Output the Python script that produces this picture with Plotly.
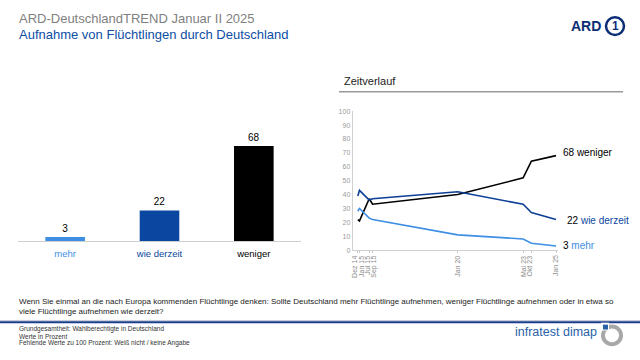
import plotly.graph_objects as go
import pandas as pd

# ---- data ----
bar_categories = ["mehr", "wie derzeit", "weniger"]
bar_values = [3, 22, 68]

trend_dates = ["2014-12-01", "2015-01-01", "2015-07-01", "2015-09-01",
               "2020-01-01", "2023-05-01", "2023-10-01", "2025-01-01"]
trend_labels = ["Dez 14", "Jan 15", "Jul 15", "Sep 15", "Jan 20", "Mai 23", "Okt 23", "Jan 25"]
weniger = [22, 21, 37, 33, 40, 52, 64, 68]
wie_derzeit = [39, 43, 36, 37, 42, 33, 27, 22]
mehr = [28, 30, 23, 22, 11, 8, 5, 3]

# ---- style ----
FONT = "Liberation Sans, Arial, sans-serif"
C_MEHR = "#3d8ee4"
C_WIE = "#0b47a0"
C_WIE_LINE = "#0c3f95"
C_WEN = "#000000"
C_TITLE = "#0d4ea6"
W, H = 640, 360

def px(x):
    return x / W

def py(y):
    return 1 - y / H

fig = go.Figure()

# bar chart
fig.add_trace(go.Bar(
    x=bar_categories, y=bar_values,
    marker=dict(color=[C_MEHR, C_WIE, C_WEN], line=dict(width=0)),
    text=[str(v) for v in bar_values], textposition="outside",
    textfont=dict(size=10, color="#000", family=FONT),
    cliponaxis=False, width=0.42, xaxis="x", yaxis="y", showlegend=False,
))

# line chart
dates = pd.to_datetime(trend_dates)
series = [("weniger", weniger, C_WEN), ("wie derzeit", wie_derzeit, C_WIE_LINE), ("mehr", mehr, C_MEHR)]
for name, vals, col in series:
    fig.add_trace(go.Scatter(
        x=dates, y=vals, mode="lines", line=dict(color=col, width=1.6),
        xaxis="x2", yaxis="y2", showlegend=False, name=name, cliponaxis=False,
    ))

# date labels: close dates are grouped and spread side by side
groups = [[0, 1], [2, 3], [4], [5, 6], [7]]
SPREAD = 6.6
date_label_ann = []
for g in groups:
    mid = dates[g[0]] + (dates[g[-1]] - dates[g[0]]) / 2
    n = len(g)
    for k, i in enumerate(g):
        date_label_ann.append(dict(
            x=mid, y=py(254.5), xref="x2", yref="paper", xanchor="center", yanchor="top",
            xshift=(k - (n - 1) / 2) * SPREAD - 1, textangle=-90, showarrow=False,
            text=trend_labels[i], font=dict(size=7, color="#8c8c8c", family=FONT)))

col_span = {"mehr": C_MEHR, "wie derzeit": C_WIE, "weniger": "#000"}
bar_ticktext = [f'<span style="color:{col_span[c]}">{c}</span>' for c in bar_categories]

last = trend_dates[-1]
annotations = date_label_ann + [
    dict(x=last, y=weniger[-1], xref="x2", yref="y2", xanchor="left", yanchor="middle",
         xshift=5, yshift=3, showarrow=False, text=f"{weniger[-1]} weniger",
         font=dict(size=10, color="#000", family=FONT)),
    dict(x=last, y=wie_derzeit[-1], xref="x2", yref="y2", xanchor="left", yanchor="middle",
         xshift=9, yshift=-1, showarrow=False,
         text=f'{wie_derzeit[-1]} <span style="color:{C_WIE}">wie derzeit</span>',
         font=dict(size=10, color="#000", family=FONT)),
    dict(x=last, y=mehr[-1], xref="x2", yref="y2", xanchor="left", yanchor="middle",
         xshift=5, yshift=0, showarrow=False,
         text=f'{mehr[-1]} <span style="color:{C_MEHR}">mehr</span>',
         font=dict(size=10, color="#000", family=FONT)),
    # titles
    dict(x=px(17), y=py(15), xref="paper", yref="paper", xanchor="left", yanchor="middle",
         showarrow=False, text="ARD-DeutschlandTREND Januar II 2025",
         font=dict(size=13, color="#7f7f7f", family=FONT)),
    dict(x=px(17), y=py(31.5), xref="paper", yref="paper", xanchor="left", yanchor="middle",
         showarrow=False, text="Aufnahme von Flüchtlingen durch Deutschland",
         font=dict(size=13, color=C_TITLE, family=FONT)),
    dict(x=px(342), y=py(79), xref="paper", yref="paper", xanchor="left", yanchor="middle",
         showarrow=False, text="Zeitverlauf",
         font=dict(size=11, color="#222", family=FONT)),
    # ARD logo
    dict(x=px(603), y=py(22.5), xref="paper", yref="paper", xanchor="right", yanchor="middle",
         showarrow=False, text="<b>ARD</b>",
         font=dict(size=14, color="#0b2d75", family=FONT)),
    dict(x=px(615), y=py(22.5), xref="paper", yref="paper", xanchor="center", yanchor="middle",
         showarrow=False, text="<b>1</b>",
         font=dict(size=12, color="#0b2d75", family=FONT)),
    # question
    dict(x=px(17), y=py(303.5), xref="paper", yref="paper", xanchor="left", yanchor="middle",
         showarrow=False,
         text="Wenn Sie einmal an die nach Europa kommenden Flüchtlinge denken: Sollte Deutschland mehr Flüchtlinge aufnehmen, weniger Flüchtlinge aufnehmen oder in etwa so",
         font=dict(size=8, color="#222", family=FONT)),
    dict(x=px(17), y=py(313.5), xref="paper", yref="paper", xanchor="left", yanchor="middle",
         showarrow=False, text="viele Flüchtlinge aufnehmen wie derzeit?",
         font=dict(size=8, color="#222", family=FONT)),
    # footnotes
    dict(x=px(17), y=py(331.3), xref="paper", yref="paper", xanchor="left", yanchor="middle",
         showarrow=False, text="Grundgesamtheit: Wahlberechtigte in Deutschland",
         font=dict(size=6.5, color="#333", family=FONT)),
    dict(x=px(17), y=py(338.6), xref="paper", yref="paper", xanchor="left", yanchor="middle",
         showarrow=False, text="Werte in Prozent",
         font=dict(size=6.5, color="#333", family=FONT)),
    dict(x=px(17), y=py(345.9), xref="paper", yref="paper", xanchor="left", yanchor="middle",
         showarrow=False, text="Fehlende Werte zu 100 Prozent: Weiß nicht / keine Angabe",
         font=dict(size=6.5, color="#333", family=FONT)),
    # infratest dimap
    dict(x=px(599), y=py(334), xref="paper", yref="paper", xanchor="right", yanchor="middle",
         showarrow=False, text="infratest dimap",
         font=dict(size=12.5, color="#2a62a8", family=FONT)),
]

shapes = [
    # Zeitverlauf underline
    dict(type="line", xref="paper", yref="paper", x0=px(339), x1=px(623), y0=py(89.5), y1=py(89.5),
         line=dict(color="#9a9a9a", width=1.5)),
    # ARD logo ring
    dict(type="circle", xref="paper", yref="paper", x0=px(606), x1=px(624), y0=py(31.5), y1=py(13.5),
         line=dict(color="#0b2d75", width=2.5)),
    # bottom rule
    dict(type="line", xref="paper", yref="paper", x0=0, x1=1, y0=py(323), y1=py(323),
         line=dict(color="#b9c0cc", width=1)),
    dict(type="line", xref="paper", yref="paper", x0=0, x1=1, y0=py(324.5), y1=py(324.5),
         line=dict(color="#1b3c8c", width=2)),
    # infratest logo
    dict(type="circle", xref="paper", yref="paper", x0=px(603), x1=px(621), y0=py(347), y1=py(329),
         line=dict(color="#a8a8a8", width=4)),
    dict(type="rect", xref="paper", yref="paper", x0=px(601), x1=px(609), y0=py(333), y1=py(325),
         fillcolor="#ffffff", line=dict(width=0)),
    dict(type="rect", xref="paper", yref="paper", x0=px(603), x1=px(608), y0=py(332), y1=py(327),
         fillcolor="#2a62a8", line=dict(width=0)),
]

fig.update_layout(
    width=W, height=H, margin=dict(l=0, r=0, t=0, b=0),
    paper_bgcolor="white", plot_bgcolor="white",
    font=dict(family=FONT),
    bargap=0.58,
    xaxis=dict(domain=[px(18), px(301)], showline=True, linecolor="#cfcfcf", linewidth=1.2,
               ticks="", tickvals=bar_categories, ticktext=bar_ticktext, ticklabelstandoff=3,
               tickfont=dict(size=9.5, family=FONT), showgrid=False, zeroline=False, fixedrange=True),
    yaxis=dict(domain=[py(242), py(99)], range=[0, 100], visible=False, fixedrange=True),
    xaxis2=dict(domain=[px(352.7), px(558)], type="date",
                range=["2014-08-28", "2025-02-07"], anchor="y2",
                showline=True, linecolor="#d0d0d0", linewidth=1,
                tickvals=dates, ticktext=[""] * len(dates),
                ticks="outside", ticklen=2, tickcolor="#c8c8c8",
                showgrid=False, zeroline=False),
    yaxis2=dict(domain=[py(251), py(109.3)], range=[0, 100], dtick=10, anchor="x2",
                showline=True, linecolor="#d0d0d0", linewidth=1, ticks="",
                tickfont=dict(size=7, color="#9a9a9a", family=FONT),
                showgrid=False, zeroline=False),
    annotations=annotations, shapes=shapes,
)

fig.write_html("out.html", config={"displayModeBar": False},
               post_script="document.body.style.margin='0';")
